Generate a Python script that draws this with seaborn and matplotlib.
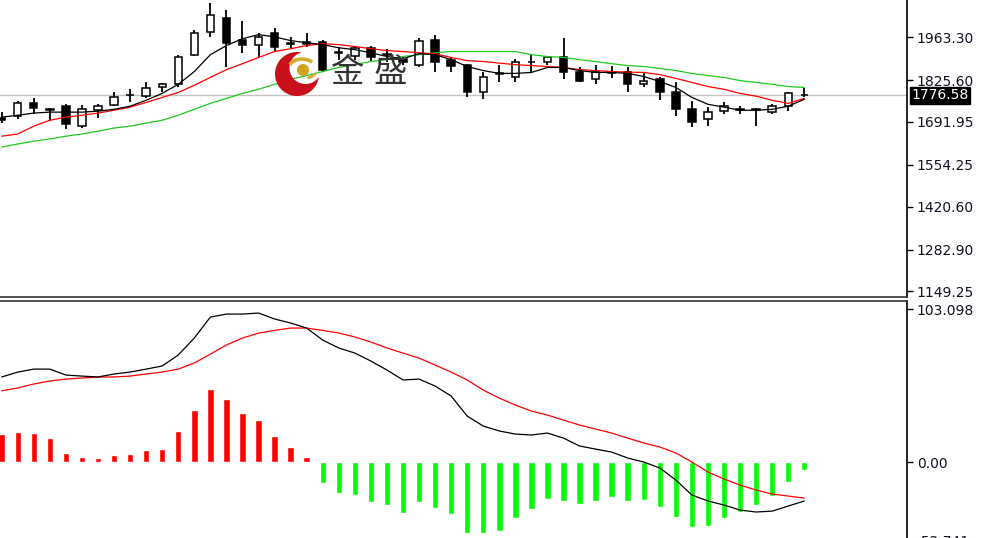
import numpy as np
import pandas as pd
import matplotlib
matplotlib.use("Agg")
import matplotlib.pyplot as plt
import seaborn as sns
from matplotlib.patches import Polygon, Circle, Arc

# ---------------- data ----------------
open_ = [1704, 1711, 1751, 1732, 1742, 1678, 1729, 1745, 1779, 1774,
         1802, 1812, 1907, 1980, 2025, 1955, 1939, 1977, 1945, 1948,
         1948, 1917, 1904, 1929, 1910, 1894, 1875, 1955, 1891, 1875,
         1786, 1844, 1837, 1882, 1885, 1898, 1850, 1828, 1850, 1850,
         1812, 1828, 1786, 1732, 1700, 1726, 1729, 1732, 1723, 1742,
         1778]
high = [1723, 1758, 1767, 1736, 1748, 1745, 1748, 1786, 1796, 1818,
        1815, 1907, 1987, 2072, 2050, 2015, 1977, 1993, 1964, 1977,
        1955, 1933, 1936, 1936, 1926, 1904, 1961, 1971, 1901, 1878,
        1850, 1875, 1894, 1907, 1904, 1961, 1866, 1875, 1872, 1866,
        1850, 1834, 1818, 1758, 1739, 1754, 1742, 1735, 1748, 1789,
        1799]
low = [1688, 1700, 1716, 1694, 1669, 1672, 1704, 1742, 1755, 1767,
       1786, 1802, 1904, 1964, 1866, 1913, 1901, 1917, 1929, 1933,
       1850, 1891, 1891, 1885, 1885, 1875, 1869, 1850, 1850, 1773,
       1764, 1821, 1818, 1853, 1875, 1828, 1818, 1812, 1831, 1786,
       1805, 1761, 1710, 1675, 1678, 1716, 1716, 1678, 1716, 1726,
       1770]
close = [1697, 1751, 1735, 1730, 1685, 1732, 1742, 1770, 1778, 1799,
         1812, 1901, 1977, 2034, 1945, 1939, 1964, 1933, 1942, 1942,
         1859, 1913, 1929, 1898, 1907, 1882, 1952, 1885, 1872, 1786,
         1837, 1847, 1882, 1885, 1898, 1850, 1824, 1853, 1847, 1812,
         1824, 1786, 1732, 1691, 1723, 1742, 1732, 1729, 1742, 1783,
         1776.58]

ma_fast = [1707, 1713, 1720, 1723, 1723, 1723, 1726, 1732, 1742, 1761,
           1783, 1812, 1853, 1907, 1936, 1958, 1971, 1964, 1952, 1945,
           1939, 1929, 1923, 1913, 1901, 1894, 1910, 1907, 1891, 1869,
           1856, 1847, 1847, 1850, 1866, 1866, 1856, 1850, 1850, 1847,
           1837, 1821, 1802, 1770, 1748, 1739, 1729, 1729, 1732, 1742,
           1764]
ma_mid = [1646, 1653, 1678, 1697, 1707, 1713, 1720, 1729, 1739, 1754,
          1770, 1786, 1809, 1834, 1859, 1878, 1898, 1917, 1926, 1936,
          1942, 1939, 1933, 1926, 1920, 1917, 1913, 1910, 1898, 1888,
          1885, 1880, 1875, 1872, 1869, 1866, 1859, 1856, 1853, 1851,
          1850, 1843, 1831, 1818, 1805, 1796, 1783, 1774, 1761, 1751,
          1767]
ma_slow = [1611, 1621, 1630, 1637, 1646, 1653, 1662, 1672, 1678, 1688,
           1697, 1713, 1732, 1751, 1767, 1783, 1796, 1812, 1828, 1840,
           1853, 1866, 1875, 1885, 1891, 1901, 1907, 1913, 1917, 1917,
           1917, 1917, 1917, 1907, 1901, 1898, 1891, 1885, 1878, 1872,
           1869, 1863, 1856, 1847, 1840, 1834, 1824, 1818, 1812, 1805,
           1802]

macd_hist = [18.8, 20.2, 19.5, 16.1, 6.1, 3.8, 3.1, 4.9, 5.6, 8.3,
             9.2, 21.3, 35.2, 49.1, 42.4, 33.4, 28.4, 17.7, 10.1, 3.8,
             -13.9, -20.9, -22.0, -26.5, -28.7, -33.9, -26.9, -30.5, -35.0, -47.7,
             -47.7, -46.0, -37.7, -31.6, -24.7, -25.8, -28.0, -25.8, -23.5, -26.0,
             -25.4, -29.9, -37.0, -43.7, -42.6, -37.7, -33.2, -28.7, -22.5, -13.0,
             -5.2]
macd_line = [57.4, 60.7, 62.7, 62.7, 58.7, 58.0, 57.4, 59.4, 60.7, 62.7,
             64.8, 72.2, 83.6, 97.7, 99.7, 99.7, 100.4, 96.4, 93.7, 90.3,
             82.2, 76.9, 73.5, 68.1, 62.1, 55.4, 56.0, 51.3, 44.6, 31.1,
             24.4, 21.1, 19.0, 18.4, 19.7, 16.3, 11.0, 8.9, 6.9, 2.9,
             0.2, -3.8, -11.9, -22.0, -26.0, -28.7, -32.1, -33.4, -32.8, -29.4,
             -26.0]
signal_line = [48.1, 50.0, 52.7, 54.7, 56.0, 56.7, 57.4, 57.4, 58.0, 59.4,
               60.7, 62.7, 66.8, 72.8, 78.9, 83.6, 86.9, 88.7, 90.3, 90.3,
               88.7, 87.0, 84.3, 80.9, 76.9, 73.5, 70.1, 65.4, 60.7, 55.4,
               48.6, 43.2, 38.5, 34.5, 31.8, 28.4, 25.1, 22.4, 19.7, 16.3,
               13.0, 10.3, 6.3, 0.2, -6.5, -11.2, -15.3, -18.6, -21.3, -22.7,
               -24.0]

price_ticks = [1963.30, 1825.60, 1691.95, 1554.25, 1420.60, 1282.90, 1149.25]
macd_ticks = [103.098, 0.00, -52.741]
macd_tick_labels = ["103.098", "0.00", "-52.741"]
last_price = 1776.58

# ---------------- style ----------------
sns.set_theme(style="white")
plt.rcParams["font.family"] = ["DejaVu Sans"]

W, H = 984, 538
fig = plt.figure(figsize=(W / 100, H / 100), dpi=100)
fig.patch.set_facecolor("white")


def rect(x0, y0, x1, y1):
    return [x0 / W, 1 - y1 / H, (x1 - x0) / W, (y1 - y0) / H]


ax = fig.add_axes(rect(0, -2, 907, 297))
ax2 = fig.add_axes(rect(0, 301, 907, 541))

df = pd.DataFrame({"i": np.arange(len(open_)), "open": open_, "high": high,
                   "low": low, "close": close, "fast": ma_fast, "mid": ma_mid,
                   "slow": ma_slow, "hist": macd_hist, "macd": macd_line,
                   "signal": signal_line})

# ---------------- price panel ----------------
ax.axhline(last_price, color="#c4c4c4", lw=1.0, zorder=0)
ax.vlines(df["i"], df["low"], df["high"], color="black", lw=1.3, zorder=2)
body_bottom = np.minimum(df["open"], df["close"])
body_h = np.maximum(np.abs(df["close"] - df["open"]), 0.6)
up = df["close"] >= df["open"]
ax.bar(df["i"], body_h, bottom=body_bottom, width=0.46,
       color=np.where(up, "white", "black"), edgecolor="black",
       linewidth=1.1, zorder=3)

sns.lineplot(data=df, x="i", y="slow", ax=ax, color="#1ec81e", lw=0.9,
             zorder=4, legend=False)
sns.lineplot(data=df, x="i", y="mid", ax=ax, color="#ff0000", lw=0.9,
             zorder=4, legend=False)
sns.lineplot(data=df, x="i", y="fast", ax=ax, color="black", lw=0.9,
             zorder=4, legend=False)

ax.set_xlim(-0.106, 56.4)
ax.set_ylim(1137.5 - 2 * 3.18, 2082 + 2 * 3.18)
ax.set_yticks(price_ticks)
ax.set_yticklabels([f"{v:.2f}" for v in price_ticks])

# ---------------- MACD panel ----------------
hist_colors = ["#ff0000" if v > 0 else "#00ff00" for v in macd_hist]
ax2.bar(df["i"], df["hist"], width=0.4, color=hist_colors, zorder=2)
sns.lineplot(data=df, x="i", y="signal", ax=ax2, color="#ff0000", lw=0.9,
             zorder=3, legend=False)
sns.lineplot(data=df, x="i", y="macd", ax=ax2, color="black", lw=0.9,
             zorder=3, legend=False)
ax2.set_xlim(-0.106, 56.4)
ax2.set_ylim(-52.9, 108.5)
ax2.set_yticks(macd_ticks)
ax2.set_yticklabels(macd_tick_labels)

for a in (ax, ax2):
    a.set_xlabel("")
    a.set_ylabel("")
    a.set_xticks([])
    a.yaxis.tick_right()
    a.tick_params(axis="y", direction="out", length=4, width=1, pad=3,
                  labelsize=10, colors="black", labelcolor="#111122")
    a.set_facecolor("white")
    for s in a.spines.values():
        s.set_visible(False)
    a.spines["right"].set_visible(True)
    a.spines["right"].set_color("black")
    a.spines["right"].set_linewidth(1.2)
ax.spines["bottom"].set_visible(True)
ax.spines["bottom"].set_color("#333333")
ax.spines["bottom"].set_linewidth(1.2)
ax2.spines["top"].set_visible(True)
ax2.spines["top"].set_color("#333333")
ax2.spines["top"].set_linewidth(1.2)

ax.annotate(f"{last_price:.2f}", xy=(1.0, last_price),
            xycoords=("axes fraction", "data"), xytext=(3, 0),
            textcoords="offset points", ha="left", va="center",
            fontsize=10, color="white", annotation_clip=False, zorder=10,
            bbox=dict(boxstyle="square,pad=0.12", fc="black", ec="black"))

# ---------------- watermark logo ----------------
ov = fig.add_axes([0, 0, 1, 1])
ov.set_xlim(0, W)
ov.set_ylim(H, 0)
ov.axis("off")
ov.patch.set_alpha(0)

c1, r1 = np.array([297.0, 74.0]), 22.0
c2, r2 = np.array([305.5, 68.0]), 16.0
phi = np.arctan2(*(c2 - c1)[::-1])
t = phi + np.linspace(0, 2 * np.pi, 400)
outer = c1 + r1 * np.c_[np.cos(t), np.sin(t)]
outer = outer[np.hypot(*(outer - c2).T) > r2]
inner = c2 + r2 * np.c_[np.cos(t), np.sin(t)]
inner = inner[np.hypot(*(inner - c1).T) < r1]
cres = np.vstack([outer, inner[::-1]])
ov.add_patch(Polygon(cres, closed=True, fc="#c8101a", ec="none", zorder=5))
ov.add_patch(Circle((303, 70), 6.0, fc="#d2a21e", ec="none", zorder=6))
ov.add_patch(Arc((302, 68), 26, 18, theta1=195, theta2=330, color="#d8ac2a",
                 lw=2.6, zorder=6))
ov.add_patch(Arc((306, 70), 20, 16, theta1=20, theta2=80, color="#d8ac2a",
                 lw=2.0, zorder=6))
ov.text(347, 73, "金", fontsize=24, family=["Noto Sans CJK SC", "DejaVu Sans"],
        color="#333333", ha="center", va="center", zorder=6)
ov.text(390, 73, "盛", fontsize=24, family=["Noto Sans CJK SC", "DejaVu Sans"],
        color="#333333", ha="center", va="center", zorder=6)

fig.savefig("out.png", dpi=100, facecolor="white")
